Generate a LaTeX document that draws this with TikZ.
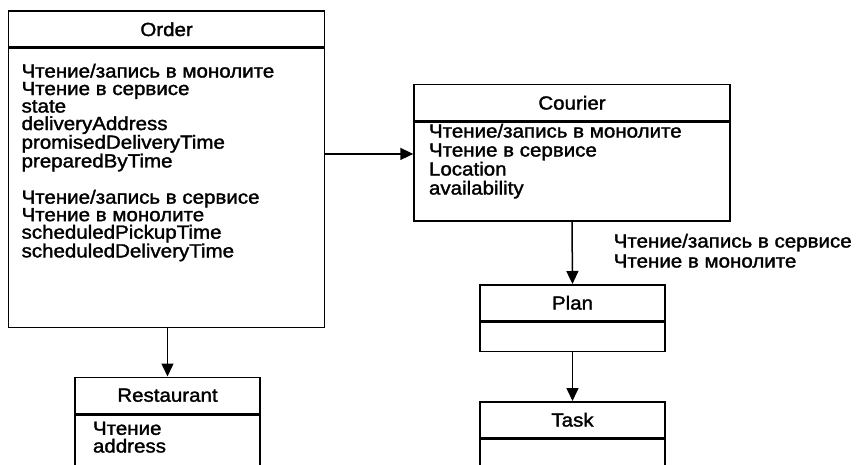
\documentclass[tikz,border=0pt]{standalone}
\usepackage{fontspec}
\setmainfont{Liberation Sans}[FakeStretch=1.08,FakeBold=1.6]
\usetikzlibrary{arrows.meta,positioning}

\newcommand{\boxfont}[1]{\fontsize{19}{#1}\selectfont}

\tikzset{
  head/.style={draw, inner sep=0pt, minimum height=36, anchor=north, font=\boxfont{20}},
  body/.style={draw, inner sep=0pt, anchor=north},
  fields/.style={anchor=north west, align=left, inner sep=0pt},
}

\begin{document}
\begin{tikzpicture}[x=1pt, y=-1pt, line width=1.5pt, >={Triangle[length=13pt,width=12pt]}]

\useasboundingbox (0,0) rectangle (857,465);
\clip (0,0) rectangle (857,465);

% class boxes: header + body
\foreach \id/\title/\cx/\top/\w/\bh in {
    order/Order/166.6/10.5/316/278.5,
    courier/Courier/572/84/316/99,
    plan/Plan/572.5/284/185/29,
    task/Task/572.5/401/185/70,
    restaurant/Restaurant/167.5/376.5/185/70}{
  \node[head, minimum width=\w] (\id) at (\cx,\top) {\title};
  \node[body, minimum width=\w, minimum height=\bh] (\id-body) at (\id.south) {};
}

% Order
\node[fields, font=\boxfont{17.5}] (order-text) at ([shift={(13,15)}]order-body.north west)
  {Чтение/запись в монолите\\Чтение в сервисе\\state\\deliveryAddress\\
   promisedDeliveryTime\\preparedByTime\\[17.5pt]
   Чтение/запись в сервисе\\Чтение в монолите\\scheduledPickupTime\\scheduledDeliveryTime};

% Courier
\node[fields, font=\boxfont{19}] (courier-text) at ([shift={(15,1.5)}]courier-body.north west)
  {Чтение/запись в монолите\\Чтение в сервисе\\Location\\availability};

% Restaurant
\node[fields, font=\boxfont{17.7}] (restaurant-text) at ([shift={(18,7)}]restaurant-body.north west)
  {Чтение\\address};

% links
\coordinate (tip) at ([yshift=17.8pt]courier-body.west);
\draw[->] (order-body.east |- tip) -- (tip);
\draw[->] (restaurant.north |- order-body.south) -- (restaurant.north);
\draw[->] (courier-body.south) -- (plan.north);
\draw[->] (plan-body.south) -- (task.north);

\node[fields, font=\boxfont{20}] (rw-note) at (613,233)
  {Чтение/запись в сервисе\\Чтение в монолите};

\end{tikzpicture}
\end{document}
